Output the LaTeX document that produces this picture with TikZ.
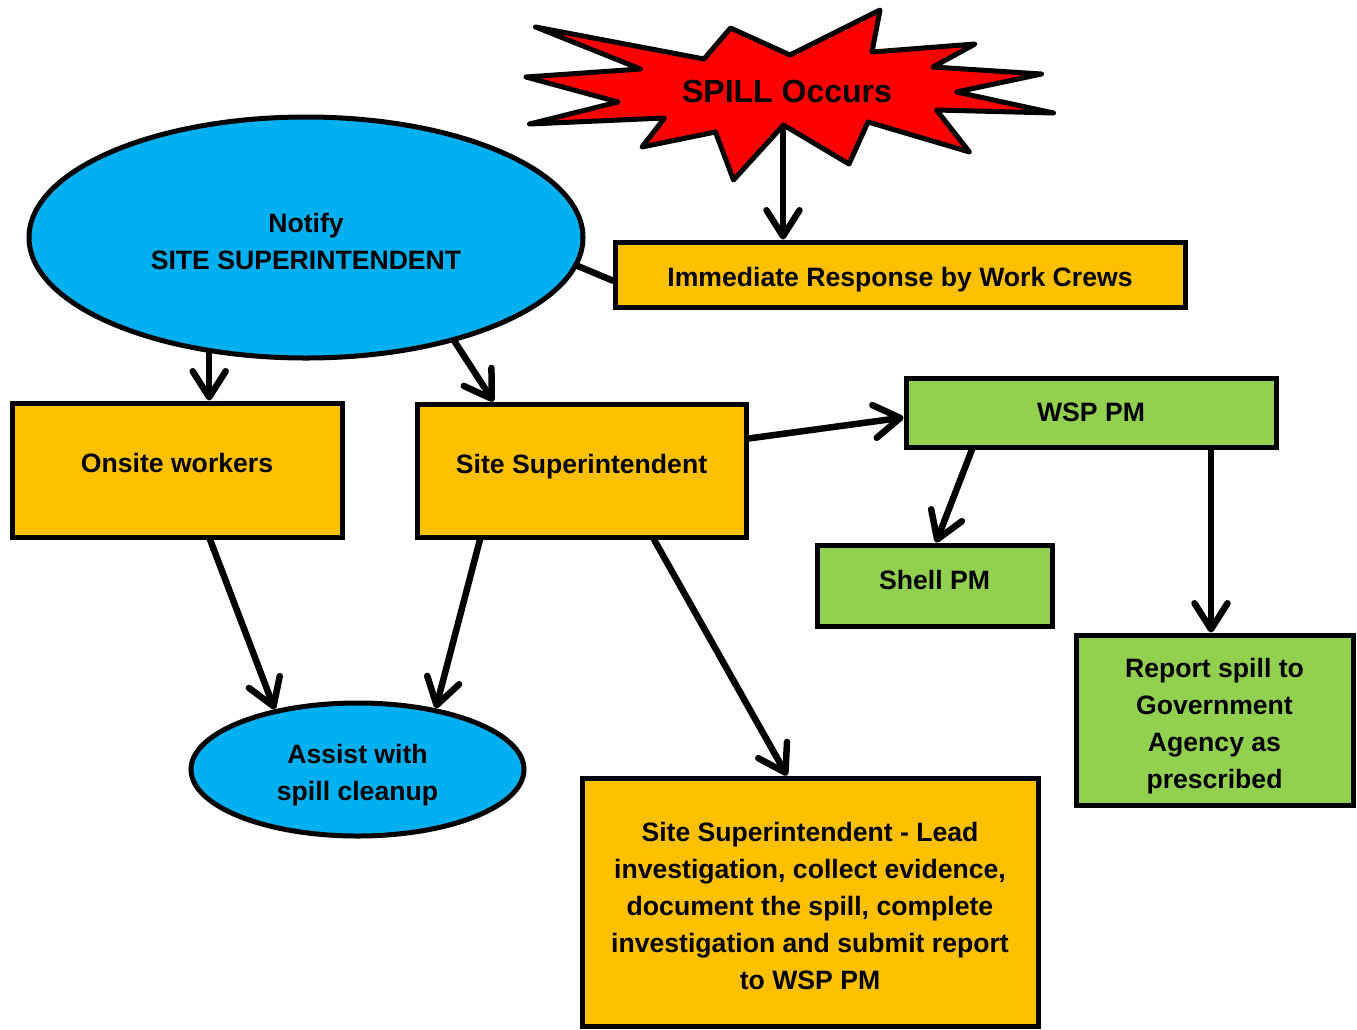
\documentclass[tikz,border=0pt]{standalone}
\usepackage{fontspec}
\setmainfont{Liberation Sans}
\usetikzlibrary{arrows.meta,shapes.geometric,calc}
\definecolor{cyanfill}{HTML}{00B0F0}
\definecolor{orangefill}{HTML}{FFC000}
\definecolor{greenfill}{HTML}{92D050}
\definecolor{redfill}{HTML}{FF0000}
\tikzset{
  txt/.style={font=\fontsize{26.6}{37}\selectfont\bfseries, align=center, inner sep=0pt},
  boxbase/.style={draw=black, line width=5pt, rectangle, inner sep=0pt},
  orangebox/.style={boxbase, fill=orangefill},
  greenbox/.style={boxbase, fill=greenfill},
  bubble/.style={draw=black, line width=5pt, ellipse, fill=cyanfill, inner sep=0pt},
  conn/.style={draw=black, line width=6.5pt, line cap=round, line join=round},
  arr/.style={conn, -{Straight Barb[length=26pt,width=33pt,round]}},
}
\begin{document}
\begin{tikzpicture}[x=1pt,y=-1pt]
\useasboundingbox (0,0) rectangle (1357,1029);
% star
\draw[fill=redfill, line width=5pt, line join=round]
 (535.5,27) -- (704,59) -- (730.5,28) -- (790,55) -- (880,10) -- (872,52) --
 (975,44) -- (933,67) -- (1041.5,74) -- (956.5,92) -- (1053.5,113) -- (936.5,110) --
 (969.5,152) -- (868,122) -- (849,164) -- (783.5,125) -- (733.5,180) -- (715.5,132) --
 (642,147) -- (664.5,118) -- (529.5,124) -- (618,102) -- (526,77) -- (640.5,69) -- cycle;
\node[txt, font=\fontsize{32}{37}\selectfont\bfseries] (spill) at (787,91) {SPILL Occurs};
\coordinate (starbot) at (783,130);

\node[bubble, minimum width=554pt, minimum height=241pt] (notify) at (306,237.5) {};
\node[orangebox, minimum width=570pt, minimum height=65pt] (imm) at (900,274.5) {};
\node[orangebox, minimum width=330pt, minimum height=134pt] (onsite) at (177,470) {};
\node[orangebox, minimum width=329pt, minimum height=133pt] (site) at (581.5,470.5) {};
\node[greenbox, minimum width=370pt, minimum height=69pt] (wsp) at (1091,412.5) {};
\node[greenbox, minimum width=235pt, minimum height=81pt] (shell) at (934.5,585.5) {};
\node[greenbox, minimum width=277pt, minimum height=170pt] (report) at (1214.5,720) {};
\node[bubble, minimum width=333pt, minimum height=133pt] (assist) at (357.5,769.5) {};
\node[orangebox, minimum width=456pt, minimum height=248pt] (lead) at (810,902) {};

% texts
\node[txt] (tnotify) at ([yshift=-4pt]notify.center) {Notify\\SITE SUPERINTENDENT};
\node[txt] (timm) at ([yshift=-5pt]imm.center) {Immediate Response by Work Crews};
\node[txt] (tonsite) at ([yshift=7pt]onsite.center) {Onsite workers};
\node[txt] (tsite) at ([yshift=4pt]site.center) {Site Superintendent};
\node[txt] (twsp) at (wsp.center) {WSP PM};
\node[txt] (tshell) at ([yshift=6pt]shell.center) {Shell PM};
\node[txt] (treport) at ([yshift=-6pt]report.center) {Report spill to\\Government\\Agency as\\prescribed};
\node[txt] (tassist) at ([yshift=-6pt]assist.center) {Assist with\\spill cleanup};
\node[txt] (tlead) at ([yshift=-4pt]lead.center) {Site Superintendent - Lead\\investigation, collect evidence,\\document the spill, complete\\investigation and submit report\\to WSP PM};

% connectors
\draw[arr] (starbot) -- (starbot |- imm.north);
\draw[conn] (notify.-6.5) -- ([yshift=-6pt]imm.west);
\draw[arr] (notify.-130) -- (notify.-130 |- onsite.north);
\draw[arr] (notify.-35) -- ([xshift=-88pt]site.north);
\draw[arr] ([yshift=32pt]site.east) -- ([yshift=-5pt]wsp.west);
\draw[arr] ([xshift=-119pt]wsp.south) -- ([xshift=1.5pt]shell.north);
\draw[arr] ([xshift=120pt]wsp.south) -- ([xshift=120pt]wsp.south |- report.north);
\draw[arr] ([xshift=33pt]onsite.south) -- (assist.144);
\draw[arr] ([xshift=-101.5pt]site.south) -- (assist.38);
\draw[arr] ([xshift=72.5pt]site.south) -- ([xshift=-23pt]lead.north);
\end{tikzpicture}
\end{document}
